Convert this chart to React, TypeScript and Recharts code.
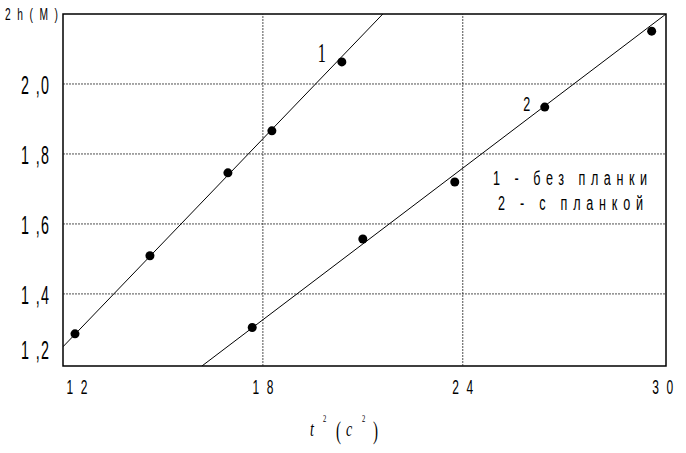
import React from 'react';
import { ScatterChart, Scatter, XAxis, YAxis, ReferenceLine, ReferenceArea } from 'recharts';

// Series 1: без планки
const s1T2 = [12.36, 14.61, 16.95, 18.27, 20.37];
const s1H = [1.286, 1.509, 1.746, 1.866, 2.063];
// Series 2: с планкой
const s2T2 = [17.68, 21.0, 23.76, 26.46, 29.67];
const s2H = [1.304, 1.557, 1.72, 1.934, 2.151];
// Fitted lines (end points)
const fit1T2 = [12.0, 21.6];
const fit1H = [1.249, 2.2];
const fit2T2 = [16.17, 30.1];
const fit2H = [1.194, 2.2];
// Curve labels
const annLabels = ['1', '2'];
const annT2 = [19.77, 25.92];
const annH = [2.091, 1.946];

const xTicks = [12, 18, 24, 30];
const yTicks = [1.2, 1.4, 1.6, 1.8, 2.0];
const gridX = [18, 24];
const gridY = [1.4, 1.6, 1.8, 2.0];
const xDomain = [12, 30.1];
const yDomain = [1.194, 2.2];

const legendLines = ['1 - без планки', '2 - с планкой'];

const zip = (xs: number[], ys: number[]) => xs.map((x, i) => ({ x, y: ys[i] }));
const data1 = zip(s1T2, s1H);
const data2 = zip(s2T2, s2H);
const fit1 = zip(fit1T2, fit1H);
const fit2 = zip(fit2T2, fit2H);
const ann = annLabels.map((label, i) => ({ x: annT2[i], y: annH[i], label }));

const SANS = '"Liberation Sans", Arial, sans-serif';
const SERIF = '"Liberation Serif", "Times New Roman", serif';

function NText(props: any) {
  const { x, y, text, size, sx = 0.55, anchor = 'start', len, italic, family } = props;
  return (
    <g transform={`translate(${x},${y})`}>
      <text
        transform={`scale(${sx},1)`}
        x={0}
        y={0}
        fontSize={size}
        fontFamily={family || SANS}
        textAnchor={anchor}
        textLength={len ? len / sx : undefined}
        lengthAdjust={len ? 'spacing' : undefined}
        fontStyle={italic ? 'italic' : undefined}
        fill="#000"
      >
        {text}
      </text>
    </g>
  );
}

const YTick = (p: any) => {
  const v = p.payload.value;
  const dy = Math.abs(v - 1.2) < 1e-6 ? -15 : 0;
  const t = v.toFixed(1).replace('.', ' ,');
  return <NText x={49} y={p.y + 10 + dy} text={t} size={26} sx={0.55} anchor="end" len={28} />;
};

const XTick = (p: any) => {
  const v = p.payload.value;
  const dx = v === 12 ? 14 : 0;
  const t = String(v).split('').join(' ');
  return <NText x={p.x + dx} y={394} text={t} size={20} sx={0.6} anchor="middle" len={21} />;
};

const Dot = (p: any) => <circle cx={p.cx} cy={p.cy} r={4.5} fill="#000" />;
const NoShape = () => <g />;
const AnnShape = (p: any) => {
  const big = p.payload.label === '1';
  return big ? (
    <NText x={p.cx} y={p.cy + 10} text="1" size={27} sx={0.6} anchor="middle" family={SERIF} />
  ) : (
    <NText x={p.cx} y={p.cy + 8} text="2" size={21} sx={0.6} anchor="middle" />
  );
};

const YTitle = () => <NText x={5} y={20} text="2 h ( M )" size={17} sx={0.6} len={53} />;

const XTitle = () => (
  <g>
    <NText x={310} y={436} text="t" size={20} sx={0.7} italic family={SERIF} />
    <NText x={323} y={422} text="2" size={11} sx={0.6} family={SERIF} />
    <NText x={336} y={439} text="(" size={25} sx={0.6} family={SERIF} />
    <NText x={346} y={436} text="c" size={20} sx={0.7} italic family={SERIF} />
    <NText x={362} y={422} text="2" size={11} sx={0.6} family={SERIF} />
    <NText x={373} y={439} text=")" size={25} sx={0.6} family={SERIF} />
  </g>
);

export default function App() {
  return (
    <div style={{ position: 'absolute', left: 0, top: 0, width: 686, height: 453, background: '#fff' }}>
      <ScatterChart width={686} height={453} margin={{ top: 14, right: 20, bottom: 0, left: 0 }}>
        <XAxis
          type="number"
          dataKey="x"
          domain={xDomain}
          ticks={xTicks}
          allowDataOverflow
          axisLine={false}
          tickLine={false}
          tickSize={0}
          height={87}
          tick={XTick}
          label={{ content: XTitle }}
        />
        <YAxis
          type="number"
          dataKey="y"
          domain={yDomain}
          ticks={yTicks}
          allowDataOverflow
          axisLine={false}
          tickLine={false}
          tickSize={0}
          width={63}
          tick={YTick}
          label={{ content: YTitle }}
        />
        {gridY.map((v) => (
          <ReferenceLine key={'gy' + v} y={v} stroke="#222" strokeWidth={0.8} strokeDasharray="2 1" />
        ))}
        {gridX.map((v) => (
          <ReferenceLine key={'gx' + v} x={v} stroke="#222" strokeWidth={0.8} strokeDasharray="2 1" />
        ))}
        <ReferenceArea x1={xDomain[0]} x2={xDomain[1]} y1={yDomain[0]} y2={yDomain[1]} fill="none" fillOpacity={0} stroke="#000" strokeWidth={1.5} />
        <Scatter data={fit1} line={{ stroke: '#000', strokeWidth: 1 }} shape={NoShape} isAnimationActive={false} />
        <Scatter data={fit2} line={{ stroke: '#000', strokeWidth: 1 }} shape={NoShape} isAnimationActive={false} />
        <Scatter data={data1} shape={Dot} isAnimationActive={false} />
        <Scatter data={data2} shape={Dot} isAnimationActive={false} />
        <Scatter data={ann} shape={AnnShape} isAnimationActive={false} />
      </ScatterChart>
      <svg width={170} height={56} style={{ position: 'absolute', left: 490, top: 160 }}>
        <NText x={3} y={25} text={legendLines[0]} size={21} sx={0.6} len={154} />
        <NText x={8} y={50} text={legendLines[1]} size={21} sx={0.6} len={145} />
      </svg>
    </div>
  );
}
